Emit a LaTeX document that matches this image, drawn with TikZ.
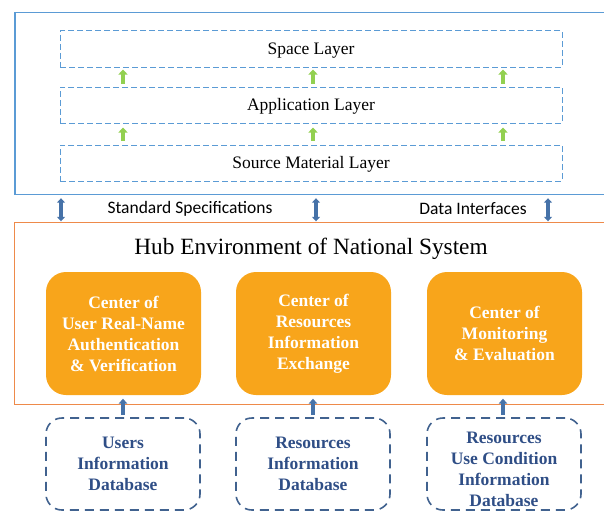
\documentclass[tikz,border=0pt]{standalone}
\usepackage{fontspec}
\setmainfont{Liberation Serif}
\newfontfamily\labelfont{Carlito}
\usetikzlibrary{arrows.meta,calc}

\definecolor{frameblue}{HTML}{5B9BD5}
\definecolor{frameorange}{HTML}{EE8A4A}
\definecolor{hubfill}{HTML}{F8A51B}
\definecolor{upgreen}{HTML}{92D050}
\definecolor{linkblue}{HTML}{4672A8}
\definecolor{dbblue}{HTML}{41628F}
\definecolor{dbtextcol}{HTML}{2F4E86}

\tikzset{
  layerbox/.style={draw=frameblue, dash pattern=on 6pt off 3pt, line width=1pt,
    minimum width=502pt, minimum height=36pt, inner sep=0pt,
    text height=12pt, text depth=2pt,
    font=\fontsize{17.5}{21}\selectfont},
  hubcenter/.style={fill=hubfill, draw=none, rounded corners=20pt,
    minimum width=155pt, minimum height=123pt, inner sep=0pt, text=white,
    align=center, font=\bfseries\fontsize{17.5}{21}\selectfont},
  dbbox/.style={draw=dbblue, dash pattern=on 9pt off 6pt, line width=1.6pt,
    rounded corners=16pt, minimum width=154pt, minimum height=92pt, inner sep=0pt},
  dblabel/.style={text=dbtextcol, align=center, inner sep=0pt,
    font=\bfseries\fontsize{17.5}{21}\selectfont},
  greenup/.style={draw=upgreen, line width=4.5pt, -{Triangle[width=9pt,length=5pt]}},
  bluelink/.style={draw=linkblue, line width=4pt,
    {Triangle[width=8pt,length=4.5pt]}-{Triangle[width=8pt,length=4.5pt]}},
  blueup/.style={draw=linkblue, line width=4.5pt, -{Triangle[width=8.5pt,length=5pt]}},
  framelabel/.style={font=\labelfont\fontsize{17.5}{21}\selectfont, inner sep=0pt},
}

\begin{document}
\begin{tikzpicture}[x=1pt, y=-1pt]
\useasboundingbox (0,0) rectangle (604,511);

% column positions
\coordinate (c1) at (123,0);
\coordinate (c2) at (313,0);
\coordinate (c3) at (503,0);

% upper frame (open on the right)
\node[draw=none, minimum width=595pt, minimum height=181pt, inner sep=0pt]
  (upper) at (312.5,103.5) {};
\draw[frameblue, line width=1.4pt]
  (upper.north east) -- (upper.north west) -- (upper.south west) -- (upper.south east);

% three layers
\node[layerbox] (space) at (311,49) {Space Layer};
\node[layerbox] (app)   at (311,105) {Application Layer};
\node[layerbox] (src)   at (311,163) {Source Material Layer};

\foreach \c in {c1,c2,c3} {
  \draw[greenup, shorten <=3pt, shorten >=2pt] (app.north -| \c) -- (space.south -| \c);
  \draw[greenup, shorten <=4pt, shorten >=4pt] (src.north -| \c) -- (app.south -| \c);
}

% hub frame (open on the right)
\node[draw=none, minimum width=595pt, minimum height=182pt, inner sep=0pt]
  (hub) at (312.5,313.5) {};
\draw[frameorange, line width=1.2pt]
  (hub.north east) -- (hub.north west) -- (hub.south west) -- (hub.south east);

% links between the two frames
\coordinate (l1) at (61,0);
\coordinate (l2) at (316,0);
\coordinate (l3) at (548,0);
\foreach \c in {l1,l2,l3}
  \draw[bluelink, shorten <=4pt, shorten >=1pt] (upper.south -| \c) -- (hub.north -| \c);

\node[framelabel] (std) at (190,209) {Standard Specifications};
\node[framelabel] (dif) at (473,209) {Data Interfaces};

\node[font=\fontsize{23.3}{27}\selectfont, inner sep=0pt] (hubtitle) at (311,249)
  {Hub Environment of National System};

% centres
\node[hubcenter] (auth) at (123.5,333.5)
  {Center of\\User Real-Name\\Authentication\\\& Verification};
\node[hubcenter] (exch) at (313.5,333.5)
  {Center of\\Resources\\Information\\Exchange};
\node[hubcenter] (eval) at (504.5,333.5)
  {Center of\\Monitoring\\\& Evaluation};

% databases
\node[dbbox] (db1) at (123,464) {};
\node[dbbox] (db2) at (313,464) {};
\node[dbbox] (db3) at (504,464) {};
\node[dblabel] (db1t) at (db1.center) {Users\\Information\\Database};
\node[dblabel] (db2t) at (db2.center) {Resources\\Information\\Database};
\node[dblabel] (db3t) at ($(db3.center)+(0,5)$) {Resources\\Use Condition\\Information\\Database};

% feeds from the databases into the centres
\draw[blueup, shorten <=2pt, shorten >=-6pt] (db1.north -| c1) -- (hub.south -| c1);
\draw[blueup, shorten <=2pt, shorten >=-6pt] (db2.north -| c2) -- (hub.south -| c2);
\draw[blueup, shorten <=2pt, shorten >=-6pt] (db3.north -| c3) -- (hub.south -| c3);
\end{tikzpicture}
\end{document}
